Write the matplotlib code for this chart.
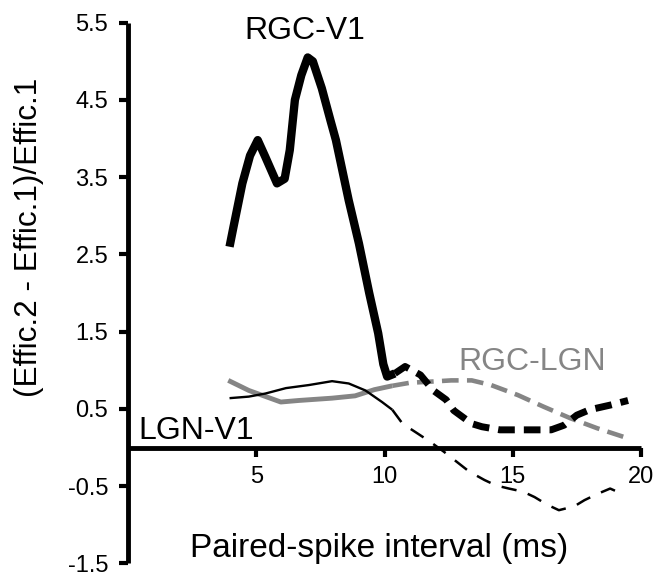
import matplotlib
matplotlib.use("Agg")
import matplotlib.pyplot as plt

plt.rcParams['font.family'] = ['Liberation Sans', 'DejaVu Sans']
plt.rcParams['lines.scale_dashes'] = False

# RGC-V1 (thick black): solid part then dashed part
rgc_v1_x = [3.95, 4.1, 4.45, 4.75, 5.05, 5.35, 5.8, 6.1, 6.3, 6.5, 6.75, 7.0, 7.2,
            7.55, 7.9, 8.1, 8.6, 9.0, 9.4, 9.75, 9.95, 10.1, 10.4]
rgc_v1_y = [2.6, 2.85, 3.42, 3.78, 3.98, 3.76, 3.42, 3.48, 3.85, 4.5, 4.82, 5.05, 5.0,
            4.65, 4.22, 3.98, 3.2, 2.64, 2.0, 1.48, 1.08, 0.92, 0.96]
rgc_v1_dx = [10.4, 10.8, 11.4, 11.9, 12.4, 12.7, 13.4, 13.8, 14.5, 15.4, 16.5, 17.0,
             17.5, 18.0, 18.8, 19.5]
rgc_v1_dy = [0.96, 1.05, 0.94, 0.74, 0.62, 0.48, 0.31, 0.27, 0.23, 0.23, 0.23, 0.29,
             0.42, 0.49, 0.55, 0.61]

# RGC-LGN (gray)
rgc_lgn_x = [3.9, 4.7, 5.95, 6.65, 7.95, 8.85, 9.6, 10.3]
rgc_lgn_y = [0.87, 0.74, 0.59, 0.61, 0.64, 0.67, 0.75, 0.80]
rgc_lgn_dx = [10.3, 11.0, 11.6, 12.6, 13.4, 14.15, 15.2, 16.2, 17.25, 18.3, 19.5]
rgc_lgn_dy = [0.80, 0.84, 0.85, 0.87, 0.87, 0.81, 0.68, 0.53, 0.38, 0.25, 0.12]

# LGN-V1 (thin black)
lgn_v1_x = [3.95, 4.7, 5.35, 6.15, 7.05, 7.95, 8.6, 9.25, 9.9, 10.3]
lgn_v1_y = [0.64, 0.66, 0.70, 0.77, 0.81, 0.86, 0.83, 0.74, 0.59, 0.49]
lgn_v1_dx = [10.3, 10.7, 11.3, 11.8, 12.3, 12.8, 13.3, 13.9, 14.35, 14.85, 15.4,
             15.85, 16.35, 16.8, 17.4, 17.8, 18.3, 18.8, 19.35]
lgn_v1_dy = [0.49, 0.31, 0.18, 0.07, -0.05, -0.18, -0.31, -0.42, -0.49, -0.53, -0.57,
             -0.64, -0.74, -0.81, -0.76, -0.68, -0.60, -0.53, -0.61]

xticks = [5, 10, 15, 20]
xtick_labels = ['5', '10', '15', '20']
yticks = [-1.5, -0.5, 0.5, 1.5, 2.5, 3.5, 4.5, 5.5]
ytick_labels = ['-1.5', '-0.5', '0.5', '1.5', '2.5', '3.5', '4.5', '5.5']

fig = plt.figure(figsize=(6.58, 5.77), dpi=100)
ax = fig.add_axes([0.195, 0.0234, 0.779, 0.9373])

gray = '#858585'
ax.plot(rgc_lgn_x, rgc_lgn_y, color=gray, lw=3.5, solid_capstyle='butt', zorder=2)
ax.plot(rgc_lgn_dx, rgc_lgn_dy, color=gray, lw=3.3, ls=(0, (12, 6)),
        dash_capstyle='butt', zorder=2)

ax.plot(lgn_v1_x, lgn_v1_y, color='black', lw=1.7, solid_capstyle='butt', zorder=3)
ax.plot(lgn_v1_dx, lgn_v1_dy, color='black', lw=1.8, ls=(0, (11, 8.5)),
        dash_capstyle='butt', zorder=3)

ax.plot(rgc_v1_x, rgc_v1_y, color='black', lw=6, solid_capstyle='butt',
        solid_joinstyle='round', zorder=4)
ax.plot(rgc_v1_dx, rgc_v1_dy, color='black', lw=5, ls=(0, (12, 6.5)),
        dash_capstyle='butt', zorder=4)

# curve labels
ax.text(4.52, 5.29, 'RGC-V1', fontsize=23, color='black', va='baseline', ha='left')
ax.text(12.86, 1.0, 'RGC-LGN', fontsize=23, color=gray, va='baseline', ha='left')
ax.text(0.39, 0.106, 'LGN-V1', fontsize=23, color='black', va='baseline', ha='left')

ax.set_xlim(0, 20)
ax.set_ylim(-1.5, 5.5)
ax.set_xticks(xticks)
ax.set_xticklabels(xtick_labels)
ax.set_yticks(yticks)
ax.set_yticklabels(ytick_labels)

for s in ['top', 'right']:
    ax.spines[s].set_visible(False)
ax.spines['bottom'].set_position(('data', 0))
ax.spines['bottom'].set_bounds(0, 20)
ax.spines['left'].set_bounds(-1.5, 5.5)
for s in ['bottom', 'left']:
    ax.spines[s].set_linewidth(3.5)
    ax.spines[s].set_capstyle('butt')
ax.tick_params(axis='both', direction='out', length=6.5, width=3, labelsize=17)
ax.tick_params(axis='x', pad=7)
ax.tick_params(axis='y', pad=8)
ax.patch.set_visible(False)

fig.text(29 / 658, 1 - 237 / 577, '(Effic.2 - Effic.1)/Effic.1', rotation=90,
         fontsize=22.7, ha='center', va='center')
fig.text(379 / 658, (577 - 556.7) / 577, 'Paired-spike interval (ms)', fontsize=24,
         ha='center', va='baseline')

fig.savefig('out.png', dpi=100)
